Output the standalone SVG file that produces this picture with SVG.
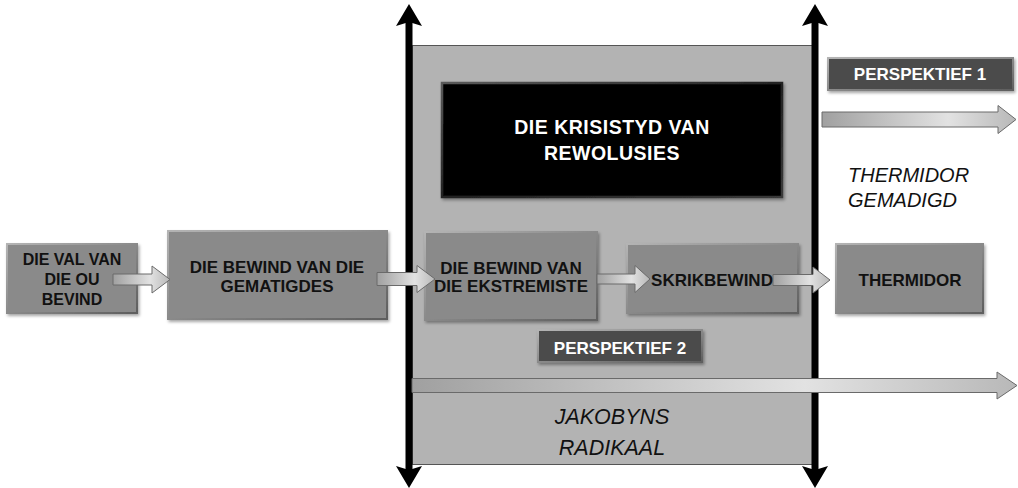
<svg xmlns="http://www.w3.org/2000/svg" width="1018" height="488" viewBox="0 0 1018 488">
<defs>
<style>
.node{fill:#8a8a8a;stroke:url(#bevel);stroke-width:2;filter:url(#sh)}
.dark{fill:#4b4b4b;stroke:url(#bevel);stroke-width:2;filter:url(#sh)}
.black{fill:#000;stroke:url(#bevelB);stroke-width:2.5;filter:url(#sh)}
.t{font-family:"Liberation Sans",Arial,sans-serif;font-weight:bold;font-size:17px;fill:#111;text-anchor:middle}
.w{fill:#fff}
.big{font-size:19.5px;letter-spacing:0.5px}
.sm{font-size:16px}
.it{font-family:"Liberation Sans",Arial,sans-serif;font-style:italic;font-size:20px;fill:#111}
.itb{font-size:21.5px;text-anchor:middle}
.barr{fill:url(#ag);stroke:#6a6a6a;stroke-width:1}
.vline{stroke:#000;stroke-width:7;fill:none;marker-start:url(#head);marker-end:url(#head)}
</style>
<linearGradient id="bevel" x1="0" y1="0" x2="1" y2="1">
<stop offset="0" stop-color="#b4b4b4"/>
<stop offset="0.5" stop-color="#8a8a8a"/>
<stop offset="1" stop-color="#5e5e5e"/>
</linearGradient>
<linearGradient id="bevelB" x1="0" y1="0" x2="1" y2="1">
<stop offset="0" stop-color="#5a5a5a"/>
<stop offset="0.5" stop-color="#222"/>
<stop offset="1" stop-color="#3a3a3a"/>
</linearGradient>
<linearGradient id="ag" x1="0" y1="0" x2="1" y2="0">
<stop offset="0" stop-color="#a0a0a0"/>
<stop offset="0.65" stop-color="#e2e2e2"/>
<stop offset="1" stop-color="#b8b8b8"/>
</linearGradient>
<filter id="sh" x="-10%" y="-10%" width="125%" height="130%">
<feDropShadow dx="1.5" dy="2" stdDeviation="1.5" flood-color="#000" flood-opacity="0.35"/>
</filter>
<marker id="head" markerUnits="userSpaceOnUse" viewBox="0 0 22 26" markerWidth="22" markerHeight="26" refX="12" refY="13" orient="auto-start-reverse">
<path d="M0,0 L22,13 L0,26 L4,13 Z" fill="#000"/>
</marker>
</defs>
<rect width="1018" height="488" fill="#fff"/>
<g id="panel">
<rect x="412.5" y="45.5" width="400" height="419" fill="#b3b3b3" stroke="#555" stroke-width="1"/>
</g>
<g id="crisis">
<rect class="black" x="442" y="83" width="340" height="114"/>
<text class="t w big" x="612" y="134">DIE KRISISTYD VAN</text>
<text class="t w big" x="612" y="159.5">REWOLUSIES</text>
</g>
<g id="perspektief1">
<rect class="dark" x="828" y="58" width="185" height="32"/>
<text class="t w" x="920" y="80">PERSPEKTIEF 1</text>
</g>
<g id="perspektief2">
<rect class="dark" x="538" y="330" width="164" height="32"/>
<text class="t w" x="620" y="354">PERSPEKTIEF 2</text>
</g>
<g id="thermidor-gemadigd">
<text class="it" x="848" y="182">THERMIDOR</text>
<text class="it" x="848" y="207">GEMADIGD</text>
</g>
<g id="jakobyns">
<text class="it itb" x="612" y="424">JAKOBYNS</text>
<text class="it itb" x="612" y="455">RADIKAAL</text>
</g>
<g id="n-val">
<rect class="node" x="7" y="244" width="130" height="69"/>
<text class="t sm" x="72" y="265">DIE VAL VAN</text>
<text class="t sm" x="72" y="285">DIE OU</text>
<text class="t sm" x="72" y="305">BEVIND</text>
</g>
<g id="n-gematigdes">
<rect class="node" x="168" y="231" width="219" height="88"/>
<text class="t" x="277" y="273">DIE BEWIND VAN DIE</text>
<text class="t" x="277" y="292">GEMATIGDES</text>
</g>
<g id="n-ekstremiste">
<rect class="node" x="425" y="232" width="172" height="88"/>
<text class="t" x="511" y="273.5">DIE BEWIND VAN</text>
<text class="t" x="511" y="292">DIE EKSTREMISTE</text>
</g>
<g id="n-skrikbewind">
<rect class="node" x="627" y="244" width="171" height="69"/>
</g>
<g id="n-thermidor">
<rect class="node" x="836" y="244" width="147" height="69"/>
<text class="t" x="910" y="286">THERMIDOR</text>
</g>
<g id="connectors">
<line class="vline" x1="409" y1="14" x2="409" y2="478"/>
<line class="vline" x1="815" y1="14" x2="815" y2="478"/>
<path class="barr" d="M113,274 L152,274 L152,266 L170,279.5 L152,293 L152,285 L113,285 Z"/>
<path class="barr" d="M377,272.5 L417,272.5 L417,265.5 L435,279 L417,292.5 L417,285.5 L377,285.5 Z"/>
<path class="barr" d="M597,274 L635,274 L635,265.5 L650,279 L635,292.5 L635,284 L597,284 Z"/>
<path class="barr" d="M773,274.5 L813,274.5 L813,267 L830,280 L813,293 L813,285.5 L773,285.5 Z"/>
<path class="barr" d="M822,112 L998,112 L998,105.5 L1016,119.5 L998,133.5 L998,127 L822,127 Z"/>
<path class="barr" d="M412,378.5 L997,378.5 L997,372 L1017,385.5 L997,399 L997,392.5 L412,392.5 Z"/>
</g>
<g id="n-skrikbewind-label">
<text class="t" x="712" y="286">SKRIKBEWIND</text>
</g>
</svg>
